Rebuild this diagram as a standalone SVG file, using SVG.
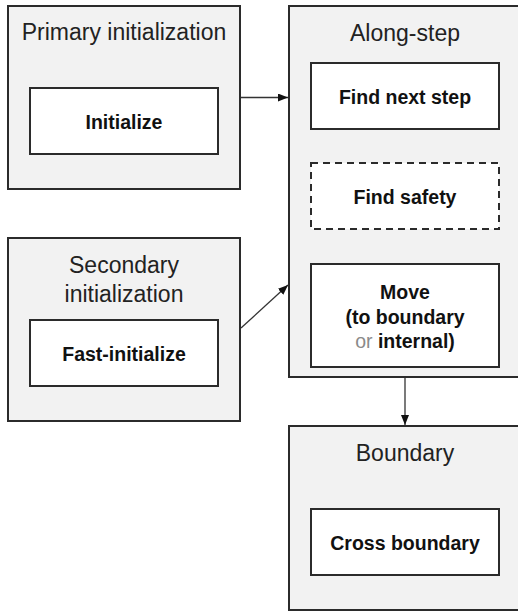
<svg xmlns="http://www.w3.org/2000/svg" width="518" height="611" viewBox="0 0 518 611">
<style>
.outer{fill:#f2f2f2;stroke:#2b2b2b;stroke-width:2}
.inner{fill:#ffffff;stroke:#2b2b2b;stroke-width:2}
.dash{fill:#ffffff;stroke:#2b2b2b;stroke-width:2;stroke-dasharray:7,5}
.title{font-family:"Liberation Sans",Arial,sans-serif;font-size:23px;fill:#222;text-anchor:middle}
.lbl{font-family:"Liberation Sans",Arial,sans-serif;font-size:19.5px;font-weight:bold;fill:#111;text-anchor:middle}
.conn{stroke:#333;stroke-width:1.3;fill:none;marker-end:url(#ah)}
</style>
<defs>
<marker id="ah" viewBox="0 0 10 8" refX="10" refY="4" markerWidth="10" markerHeight="8" markerUnits="userSpaceOnUse" orient="auto">
<path d="M0,0 L10,4 L0,8 Z" fill="#111"/>
</marker>
</defs>
<rect width="518" height="611" fill="#ffffff"/>
<g id="primary">
<rect class="outer" x="8" y="6" width="232" height="183"/>
<text class="title" x="124" y="40">Primary initialization</text>
<rect class="inner" x="30" y="88" width="188" height="66"/>
<text class="lbl" x="124" y="129">Initialize</text>
</g>
<g id="secondary">
<rect class="outer" x="8" y="238" width="232" height="183"/>
<text class="title" x="124" y="273">Secondary</text>
<text class="title" x="124" y="302">initialization</text>
<rect class="inner" x="30" y="320" width="188" height="66"/>
<text class="lbl" x="124" y="361">Fast-initialize</text>
</g>
<g id="alongstep">
<rect class="outer" x="289" y="6" width="232" height="371"/>
<text class="title" x="405" y="41">Along-step</text>
<rect class="inner" x="311" y="63" width="188" height="66"/>
<text class="lbl" x="405" y="104">Find next step</text>
<rect class="dash" x="311" y="163" width="188" height="66"/>
<text class="lbl" x="405" y="204">Find safety</text>
<rect class="inner" x="311" y="264" width="188" height="103"/>
<text class="lbl" x="405" y="299">Move</text>
<text class="lbl" x="405" y="324">(to boundary</text>
<text class="lbl" x="405" y="348"><tspan fill="#8a8a8a" font-weight="normal">or</tspan> internal)</text>
</g>
<g id="boundary">
<rect class="outer" x="289" y="426" width="232" height="184"/>
<text class="title" x="405" y="461">Boundary</text>
<rect class="inner" x="311" y="509" width="188" height="66"/>
<text class="lbl" x="405" y="550">Cross boundary</text>
</g>
<g id="connectors">
<line class="conn" x1="241" y1="97.5" x2="288" y2="97.5"/>
<line class="conn" x1="241" y1="328" x2="288" y2="285"/>
<line class="conn" x1="405" y1="378" x2="405" y2="425"/>
</g>
</svg>
